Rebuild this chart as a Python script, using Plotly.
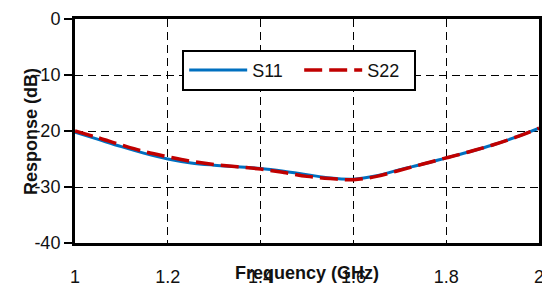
import plotly.graph_objects as go

freq = [1.0, 1.05, 1.1, 1.15, 1.2, 1.25, 1.3, 1.35, 1.4, 1.45, 1.5, 1.55, 1.6, 1.65, 1.7, 1.75, 1.8, 1.85, 1.9, 1.95, 2.0]
s11 = [-20.2, -21.5, -22.8, -24.0, -25.0, -25.7, -26.1, -26.4, -26.7, -27.2, -27.8, -28.4, -28.6, -28.0, -26.9, -25.9, -24.8, -23.7, -22.5, -21.1, -19.5]
s22 = [-20.0, -21.2, -22.5, -23.7, -24.6, -25.4, -26.0, -26.4, -26.8, -27.4, -28.1, -28.5, -28.7, -28.1, -27.0, -25.9, -24.8, -23.7, -22.5, -21.1, -19.5]
x_ticks = [1, 1.2, 1.4, 1.6, 1.8, 2]
x_tick_labels = ["1", "1.2", "1.4", "1.6", "1.8", "2"]
y_ticks = [0, -10, -20, -30, -40]
y_tick_labels = ["0", "-10", "-20", "-30", "-40"]

fig = go.Figure()
fig.add_trace(go.Scatter(x=freq, y=s11, mode="lines", name="S11",
                         line=dict(color="#0070C0", width=3, shape="spline")))
fig.add_trace(go.Scatter(x=freq, y=s22, mode="lines", name="S22",
                         line=dict(color="#C00000", width=3.5, shape="spline", dash="18px,7px")))

font = dict(family="Arial, Liberation Sans, sans-serif", size=18, color="#111111")

fig.update_layout(
    width=550, height=286,
    margin=dict(l=67, r=19, t=11, b=51, autoexpand=False),
    paper_bgcolor="white", plot_bgcolor="white",
    font=font,
    showlegend=True,
    legend=dict(orientation="h", x=0.231, y=0.862, xanchor="left", yanchor="top",
                bordercolor="black", borderwidth=2, bgcolor="white",
                font=font, itemwidth=58, entrywidth=42, tracegroupgap=0),
    xaxis=dict(range=[1, 2], tickvals=x_ticks, ticktext=x_tick_labels, automargin=False,
               showgrid=True, gridcolor="black", gridwidth=1.2, griddash="8px,5px",
               showline=True, linecolor="black", linewidth=3, mirror=True,
               ticks="", ticklabelstandoff=15, zeroline=False),
    yaxis=dict(range=[-40, 0], tickvals=y_ticks, ticktext=y_tick_labels, automargin=False,
               showgrid=True, gridcolor="black", gridwidth=1.2, griddash="8px,5px",
               showline=True, linecolor="black", linewidth=3, mirror=True,
               ticks="outside", ticklen=8, tickwidth=2, tickcolor="black", zeroline=False),
    annotations=[
        dict(text="<b>Response (dB)</b>", xref="paper", yref="paper", x=-0.095, y=0.5,
             xanchor="center", yanchor="middle", textangle=-90, showarrow=False, font=font),
        dict(text="<b>Frequency (GHz)</b>", xref="paper", yref="paper", x=0.5, y=-0.134,
             xanchor="center", yanchor="middle", showarrow=False, font=font),
    ],
)

fig.write_html("out.html")
